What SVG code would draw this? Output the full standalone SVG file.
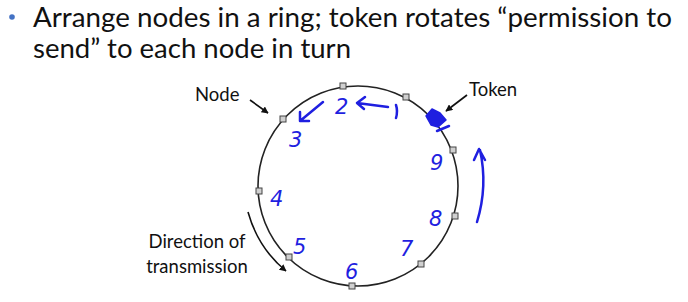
<svg xmlns="http://www.w3.org/2000/svg" width="688" height="302" viewBox="0 0 688 302">
<defs>
<style>
.title{font-family:Lato,"Open Sans","Liberation Sans",sans-serif;font-size:27px;fill:#111}
.lbl{font-family:Lato,"Open Sans","Liberation Sans",sans-serif;font-size:18.5px;fill:#111}
.num{font-family:"DejaVu Sans","Liberation Sans",sans-serif;font-size:21px;fill:#1f1fe0;font-style:italic}
.node{fill:#d0d0d0;stroke:#444;stroke-width:1}
.ink{fill:none;stroke:#1f1fe0;stroke-width:2.5;stroke-linecap:round;stroke-linejoin:round}
.blk{fill:none;stroke:#111;stroke-width:1.6}
</style>
<marker id="ah" viewBox="0 0 10 10" refX="9" refY="5" markerWidth="7" markerHeight="7" orient="auto" markerUnits="userSpaceOnUse">
<path d="M0,0 L10,5 L0,10 z" fill="#111"/>
</marker>
</defs>
<rect width="688" height="302" fill="#fff"/>
<circle cx="12" cy="17" r="2.8" fill="#4472c4"/>
<text class="title" x="33" y="27" textLength="639" lengthAdjust="spacingAndGlyphs">Arrange nodes in a ring; token rotates “permission to</text>
<text class="title" x="33" y="58" textLength="318" lengthAdjust="spacingAndGlyphs">send” to each node in turn</text>
<g id="ring">
<circle cx="358" cy="186" r="100" fill="none" stroke="#222" stroke-width="1.6"/>
</g>
<g id="nodes">
<rect id="n1" class="node" x="340" y="83" width="6" height="6"/>
<rect id="n2" class="node" x="403" y="94" width="6" height="6"/>
<rect id="n3" class="node" x="280" y="116" width="6" height="6"/>
<rect id="n4" class="node" x="256" y="188" width="6" height="6"/>
<rect id="n5" class="node" x="286" y="254" width="6" height="6"/>
<rect id="n6" class="node" x="349" y="283" width="6" height="6"/>
<rect id="n7" class="node" x="418" y="261" width="6" height="6"/>
<rect id="n8" class="node" x="452" y="213" width="6" height="6"/>
<rect id="n9" class="node" x="450" y="147" width="6" height="6"/>
</g>
<g id="token">
<polygon points="426,116 432,109 440,113 446,120 438,127 431,125" fill="#1f1fe0" stroke="#1f1fe0" stroke-width="1.5" stroke-linejoin="round"/>
<path class="ink" d="M437,131 L449,126" stroke-width="1.8"/>
</g>
<g id="labels">
<text class="lbl" x="195" y="101">Node</text>
<text class="lbl" x="469" y="96">Token</text>
<text class="lbl" x="197" y="248" text-anchor="middle">Direction of</text>
<text class="lbl" x="197" y="273" text-anchor="middle">transmission</text>
</g>
<g id="connectors">
<path class="blk" d="M250,100 L268,113" marker-end="url(#ah)"/>
<path class="blk" d="M467,95 L446,111" marker-end="url(#ah)"/>
<path class="blk" d="M248,212 Q258,248 286,271" marker-end="url(#ah)"/>
</g>
<g id="ink-numbers">
<path class="ink" d="M396,105 Q398,111 396,118" stroke-width="2"/>
<text class="num" x="335" y="114">2</text>
<text class="num" x="289" y="147">3</text>
<text class="num" x="270" y="206">4</text>
<text class="num" x="293" y="254">5</text>
<text class="num" x="345" y="279">6</text>
<text class="num" x="400" y="256">7</text>
<text class="num" x="429" y="226">8</text>
<text class="num" x="430" y="170">9</text>
<path class="ink" d="M388,107 L357,103 M365,97 L357,103 L364,109"/>
<path class="ink" d="M323,102 L300,121 M300,112 L300,121 L309,121"/>
<path class="ink" d="M477,222 Q488,186 480,150 M474,160 L479,149 L485,160"/>
</g>
</svg>
